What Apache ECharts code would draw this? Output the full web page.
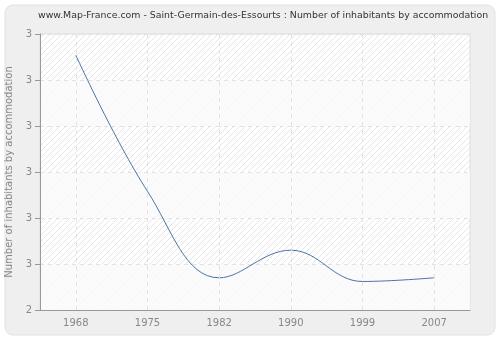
<!DOCTYPE html>
<html>
<head>
    <meta charset="utf-8">
    <script src="https://cdn.jsdelivr.net/npm/echarts@6/dist/echarts.min.js"></script>
    <style>
        body { margin: 0; background: #fff; }
        #main { width: 500px; height: 340px; }
    </style>
</head>
<body>
    <div id="main"></div>
</body>
<script>
    var years = ['1968', '1975', '1982', '1990', '1999', '2007'];
    var values = [2.727, 2.579, 2.485, 2.515, 2.481, 2.485];
    var titleText = 'www.Map-France.com - Saint-Germain-des-Essourts : Number of inhabitants by accommodation';
    var yName = 'Number of inhabitants by accommodation';

    // hatched background for the plot area
    var hatch = document.createElement('canvas');
    hatch.width = 6;
    hatch.height = 6;
    var ctx = hatch.getContext('2d');
    ctx.fillStyle = '#ffffff';
    ctx.fillRect(0, 0, 6, 6);
    ctx.strokeStyle = '#e6e6e6';
    ctx.lineWidth = 1;
    ctx.beginPath();
    ctx.moveTo(0, 6); ctx.lineTo(6, 0);
    ctx.moveTo(-3, 3); ctx.lineTo(3, -3);
    ctx.moveTo(3, 9); ctx.lineTo(9, 3);
    ctx.stroke();

    var myChart = echarts.init(document.getElementById('main'));
    myChart.setOption({
        backgroundColor: '#ffffff',
        animation: false,
        textStyle: { fontFamily: 'DejaVu Sans' },
        graphic: [{
            type: 'rect',
            z: -10,
            shape: { x: 5, y: 5, width: 490, height: 330, r: 8 },
            style: { fill: '#efefef', stroke: '#e2e2e2', lineWidth: 1 }
        }],
        title: {
            text: titleText,
            left: 33,
            top: 6,
            textStyle: { fontSize: 9.4, fontWeight: 'normal', color: '#333' }
        },
        grid: {
            left: 40, right: 30, top: 34, bottom: 30,
            outerBoundsMode: 'none',
            containLabel: false,
            show: true,
            backgroundColor: { image: hatch, repeat: 'repeat' },
            borderColor: '#dddddd',
            borderWidth: 1
        },
        xAxis: {
            type: 'category',
            data: years,
            boundaryGap: true,
            axisLine: { lineStyle: { color: '#999' } },
            axisTick: { alignWithLabel: true, length: 5, lineStyle: { color: '#999' } },
            axisLabel: { color: '#888', fontSize: 10, margin: 8 },
            splitLine: { show: false }
        },
        yAxis: {
            type: 'value',
            min: 2.45,
            max: 2.75,
            interval: 0.05,
            name: yName,
            nameLocation: 'middle',
            nameGap: 20,
            nameTextStyle: { color: '#888', fontSize: 10 },
            axisLine: { show: true, lineStyle: { color: '#999' } },
            axisTick: { show: true, length: 5, lineStyle: { color: '#999' } },
            axisLabel: {
                color: '#888', fontSize: 10, margin: 8,
                formatter: function (v) { return String(Math.round(v)); }
            },
            splitLine: { lineStyle: { color: '#e2e2e2', type: [4, 4] } },
            splitArea: { show: true, areaStyle: { color: ['rgba(250,250,250,0.85)', 'rgba(0,0,0,0)'] } }
        },
        series: [{
            type: 'line',
            data: values,
            smooth: 0.4,
            symbol: 'none',
            lineStyle: { color: '#4a75a8', width: 1 },
            markLine: {
                silent: true,
                symbol: 'none',
                label: { show: false },
                lineStyle: { color: '#e2e2e2', type: [4, 4], width: 1 },
                data: years.map(function (y) { return { xAxis: y }; })
            },
            z: 3
        }]
    });
</script>
</html>
